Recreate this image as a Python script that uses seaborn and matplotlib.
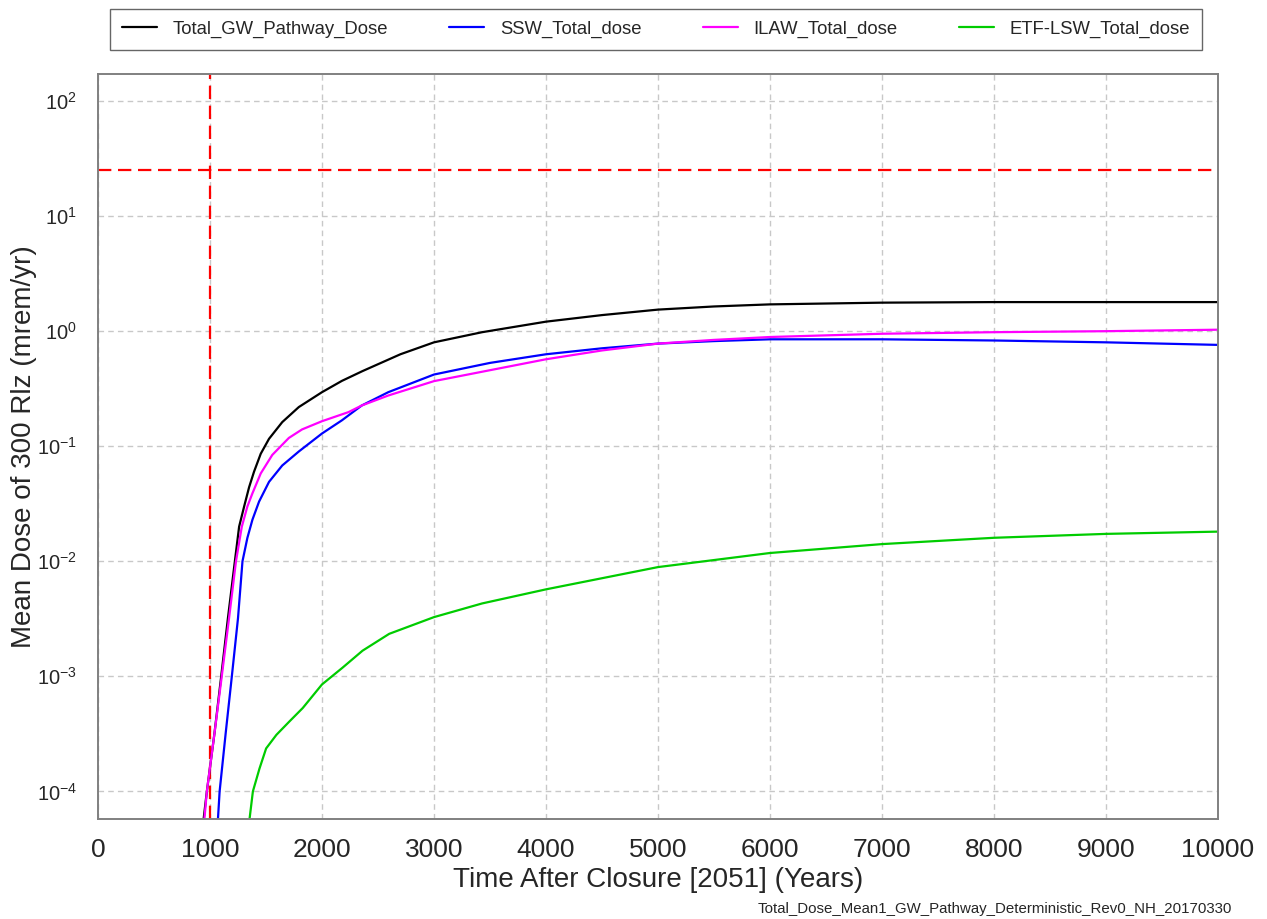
import matplotlib
matplotlib.use("Agg")
import matplotlib.pyplot as plt
import matplotlib.ticker as mticker
import pandas as pd
import seaborn as sns

# values (years after closure, mrem/yr)
total_t = [943, 972, 1040, 1100, 1160, 1222, 1260, 1305, 1349, 1393, 1453, 1527, 1645, 1793,
           2000, 2178, 2362, 2700, 3000, 3430, 4000, 4500, 5000, 5500, 6000, 7000, 8000,
           9000, 10000]
total_v = [5.75e-5, 1e-4, 3.2e-4, 1e-3, 3.2e-3, 1e-2, 0.020, 0.030, 0.044, 0.060, 0.086, 0.116,
           0.162, 0.219, 0.295, 0.37, 0.45, 0.63, 0.80, 0.98, 1.21, 1.38, 1.54, 1.64, 1.71,
           1.77, 1.79, 1.79, 1.79]

ssw_t = [1071, 1086, 1140, 1195, 1250, 1290, 1334, 1379, 1438, 1527, 1645, 1793, 2000, 2178,
         2355, 2592, 3000, 3500, 4000, 4500, 5000, 5500, 6000, 7000, 8000, 9000, 10000]
ssw_v = [5.75e-5, 1e-4, 3.2e-4, 1e-3, 3.2e-3, 1e-2, 0.0160, 0.023, 0.033, 0.049, 0.068, 0.090,
         0.129, 0.168, 0.226, 0.295, 0.42, 0.53, 0.63, 0.71, 0.78, 0.82, 0.85, 0.85, 0.83,
         0.80, 0.76]

ilaw_t = [950, 972, 1040, 1105, 1170, 1232, 1284, 1334, 1379, 1453, 1556, 1704, 1822, 2000,
          2237, 2355, 2592, 3000, 4000, 4500, 5000, 5500, 6000, 7000, 8000, 9000, 10000]
ilaw_v = [5.75e-5, 1e-4, 3.2e-4, 1e-3, 3.2e-3, 1e-2, 0.020, 0.030, 0.039, 0.058, 0.084, 0.118,
          0.140, 0.165, 0.198, 0.226, 0.276, 0.368, 0.57, 0.68, 0.78, 0.84, 0.89, 0.95, 0.98,
          1.0, 1.03]

etf_t = [1353, 1383, 1442, 1501, 1593, 1709, 1828, 2000, 2184, 2362, 2600, 3000, 3430, 4000,
         5000, 6000, 7000, 8000, 9000, 10000]
etf_v = [5.75e-5, 1e-4, 1.58e-4, 2.36e-4, 3.1e-4, 4.05e-4, 5.3e-4, 8.5e-4, 1.19e-3, 1.67e-3,
         2.34e-3, 3.27e-3, 4.3e-3, 5.7e-3, 8.9e-3, 0.0118, 0.0141, 0.016, 0.0173, 0.0181]

series_names = ["Total_GW_Pathway_Dose", "SSW_Total_dose", "ILAW_Total_dose", "ETF-LSW_Total_dose"]
series_colors = ["black", "#0000ff", "#ff00ff", "#00cc00"]
limit_year = 1000
limit_dose = 25

frames = []
for name, t, v in zip(series_names, [total_t, ssw_t, ilaw_t, etf_t], [total_v, ssw_v, ilaw_v, etf_v]):
    frames.append(pd.DataFrame({"time": t, "dose": v, "series": name}))
df = pd.concat(frames, ignore_index=True)

sns.set_style("white")
plt.rcParams["font.family"] = ["Liberation Sans", "DejaVu Sans"]

fig = plt.figure(figsize=(12.67, 9.19), dpi=100)
ax = fig.add_axes([98 / 1267, 1 - 819 / 919, 1120 / 1267, 745 / 919])
ax.set_yscale("log")

sns.lineplot(data=df, x="time", y="dose", hue="series", hue_order=series_names,
             palette=series_colors, estimator=None, sort=False, linewidth=1.6, ax=ax)

# limit lines
ax.axvline(limit_year, color="red", linestyle=(0, (6, 3)), linewidth=1.6, zorder=1)
ax.axhline(limit_dose, color="red", linestyle=(0, (6, 3)), linewidth=1.6, zorder=1)

ax.set_xlim(0, 10000)
ax.set_ylim(5.75e-5, 172)
ax.xaxis.set_major_locator(mticker.MultipleLocator(1000))
ax.yaxis.set_major_locator(mticker.LogLocator(base=10, numticks=12))
ax.yaxis.set_minor_locator(mticker.LogLocator(base=10, subs=range(2, 10), numticks=12))
ax.yaxis.set_minor_formatter(mticker.NullFormatter())

ax.grid(True, which="major", color="#c8c8c8", linestyle=(0, (4, 3)), linewidth=1.0)
for side in ["left", "bottom", "top", "right"]:
    ax.spines[side].set_color("#808080")
    ax.spines[side].set_linewidth(1.4)

ax.tick_params(axis="x", which="major", direction="out", length=8, width=1.2, color="#808080",
               labelsize=19, pad=6)
ax.tick_params(axis="y", which="major", direction="in", length=11, width=1.0, color="#c0c0c0",
               labelsize=14.5, pad=15)
ax.tick_params(axis="y", which="minor", direction="in", length=11, width=1.0, color="#c0c0c0")

ax.set_xlabel("Time After Closure [2051] (Years)", fontsize=20, labelpad=3)
ax.set_ylabel("Mean Dose of 300 Rlz (mrem/yr)", fontsize=20, labelpad=0)

sns.move_legend(ax, "lower left", bbox_to_anchor=(12 / 1120, 1 + 24 / 745, 1092 / 1120, 42 / 745),
                ncol=4, mode="expand", title=None, frameon=True, fontsize=13.3,
                borderaxespad=0, borderpad=0.65, handlelength=1.9, handletextpad=0.85,
                fancybox=False)
leg = ax.get_legend()
leg.get_frame().set_edgecolor("#404040")
leg.get_frame().set_linewidth(1.0)

fig.text(1232 / 1267, 1 - 909 / 919, "Total_Dose_Mean1_GW_Pathway_Deterministic_Rev0_NH_20170330",
         ha="right", va="center", fontsize=10.8)

fig.savefig("out.png", dpi=100)
